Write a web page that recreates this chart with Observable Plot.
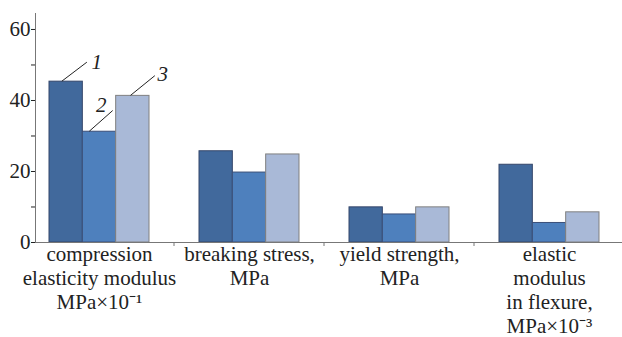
<!DOCTYPE html>
<html><head><meta charset="utf-8">
<script src="https://cdn.jsdelivr.net/npm/d3@7"></script>
<script src="https://cdn.jsdelivr.net/npm/@observablehq/plot@0.6"></script>
<style>
body{margin:0;background:#fff}
#chart svg, #chart svg text, #chart svg tspan { font-family: "Liberation Serif", "Times New Roman", serif; }
</style>
</head><body><div id="chart"></div>
<script>
const categories = ["compression elasticity modulus", "breaking stress", "yield strength", "elastic modulus in flexure"];
const categoryLabels = ["compression\nelasticity modulus\nMPa×10⁻¹", "breaking stress,\nMPa", "yield strength,\nMPa", "elastic\nmodulus\nin flexure,\nMPa×10⁻³"];
const seriesNames = ["1", "2", "3"];
const series1 = [45.3, 25.7, 9.9, 21.9];
const series2 = [31.2, 19.7, 7.9, 5.5];
const series3 = [41.3, 24.8, 9.9, 8.5];
const yTicks = [0, 10, 20, 30, 40, 50, 60];
const yTickLabels = ["0", "", "20", "", "40", "", "60"];
const seriesFill = ["#41699c", "#4e80bd", "#a9b9d7"];
const seriesStroke = ["#34466a", "#3b4f78", "#808080"];

const W = 622, H = 337;
const allSeries = [series1, series2, series3];
const rows = [];
allSeries.forEach((vals, s) => vals.forEach((v, i) => rows.push({category: categories[i], series: seriesNames[s], value: v})));

const bandRange = [24, 624];
const bw = (bandRange[1] - bandRange[0]) / categories.length;
const barW = bw / 4.5;

// leader-line geometry for the series callouts (px, relative to bar centre / top)
const leaderStyle = [
  {x1: -3.8, x2: 21.2, dy: -19, tx: 31.2, ty: -19.5},
  {x1: -9.7, x2: 13.7, dy: -20.7, tx: 2.3, ty: -26.5},
  {x1: -1.8, x2: 22.5, dy: -19.7, tx: 30.3, ty: -21.5}
];

function annotations(index, scales) {
  const {x, y} = scales;
  const g = d3.create("svg:g");
  categories.slice(1).forEach(c => {
    g.append("line").attr("x1", x(c)).attr("x2", x(c)).attr("y1", y(0)).attr("y2", y(0) + 4)
      .attr("stroke", "#777").attr("stroke-width", 1);
  });
  seriesNames.forEach((name, s) => {
    const st = leaderStyle[s];
    const cx = x(categories[0]) + bw / 2 + (s - 1) * barW;
    const top = y(allSeries[s][0]);
    g.append("line")
      .attr("x1", cx + st.x1).attr("y1", top)
      .attr("x2", cx + st.x2).attr("y2", top + st.dy)
      .attr("stroke", "#222").attr("stroke-width", 1);
    g.append("text")
      .attr("x", cx + st.tx).attr("y", top + st.ty)
      .attr("text-anchor", "middle").attr("dy", "0.35em")
      .attr("font-style", "italic").attr("font-size", 21)
      .attr("fill", "#222").text(name);
  });
  return g.node();
}

const marks = [];
seriesNames.forEach((name, s) => {
  marks.push(Plot.barY(rows.filter(d => d.series === name), {
    x: "category", y: "value",
    fill: seriesFill[s], stroke: seriesStroke[s], strokeWidth: 1,
    insetLeft: (bw - barW) / 2, insetRight: (bw - barW) / 2,
    dx: (s - 1) * barW
  }));
});
marks.push(Plot.frame({anchor: "left", stroke: "#777"}));
marks.push(Plot.ruleY([0], {stroke: "#777"}));
marks.push(Plot.text(categories, {
  x: d => d, text: (d, i) => categoryLabels[i],
  frameAnchor: "bottom", lineAnchor: "top", dy: 1.5, lineHeight: 1.14,
  fontSize: 21, fill: "#222"
}));
marks.push(annotations);

const svg = Plot.plot({
  width: W, height: H,
  marginLeft: 35, marginRight: 0, marginTop: 13, marginBottom: 95,
  style: {fontFamily: "Liberation Serif", fontSize: "21px", color: "#222", background: "white", overflow: "visible"},
  x: {domain: categories, range: bandRange, padding: 0, axis: null},
  y: {domain: [0, 64.5], ticks: yTicks, tickFormat: d => yTickLabels[yTicks.indexOf(d)], tickSize: 4, tickPadding: 1, label: null},
  marks
});
document.getElementById("chart").appendChild(svg);
</script>
</body></html>
